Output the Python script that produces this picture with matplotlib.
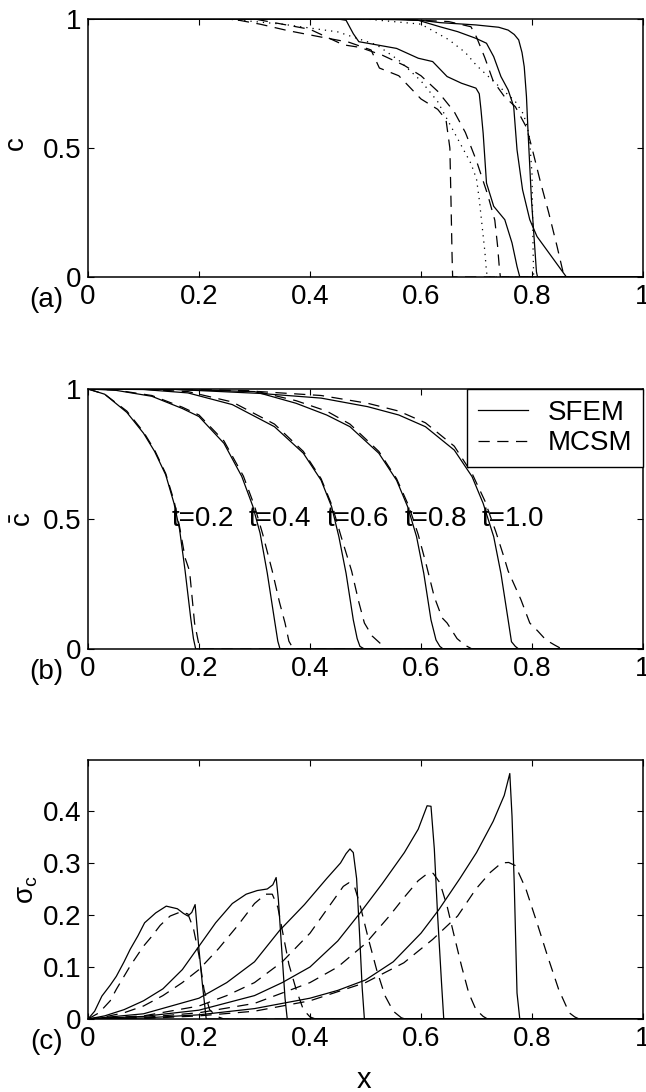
import matplotlib
matplotlib.use('Agg')
import matplotlib.pyplot as plt

plt.rcParams['font.family'] = ['Liberation Sans', 'DejaVu Sans']
plt.rcParams['mathtext.fontset'] = 'custom'
plt.rcParams['mathtext.rm'] = 'Liberation Sans'
plt.rcParams['mathtext.it'] = 'Liberation Sans'

# --- (a) single realizations of c ---
xa_s1 = [0, 0.5, 0.6, 0.634, 0.699, 0.74, 0.757, 0.768, 0.776, 0.782, 0.786, 0.79, 0.793, 0.799, 0.804, 0.808, 0.81, 1]
ca_s1 = [1, 1, 0.995, 0.986, 0.977, 0.968, 0.957, 0.94, 0.919, 0.87, 0.815, 0.7, 0.557, 0.3, 0.145, 0.02, 0, 0]
xa_s2 = [0, 0.55, 0.595, 0.634, 0.666, 0.699, 0.718, 0.731, 0.744, 0.757, 0.767, 0.773, 0.783, 0.796, 0.809, 0.835, 0.862, 1]
ca_s2 = [1, 1, 0.995, 0.97, 0.951, 0.925, 0.906, 0.854, 0.777, 0.725, 0.661, 0.493, 0.338, 0.222, 0.157, 0.08, 0, 0]
xa_s3 = [0, 0.45, 0.465, 0.478, 0.488, 0.504, 0.556, 0.595, 0.621, 0.647, 0.673, 0.699, 0.705, 0.708,
         0.712, 0.718, 0.731, 0.751, 0.764, 0.773, 0.778, 1]
ca_s3 = [1, 1, 0.995, 0.943, 0.912, 0.906, 0.886, 0.848, 0.835, 0.777, 0.751, 0.732, 0.71, 0.65,
         0.557, 0.364, 0.274, 0.222, 0.132, 0.041, 0, 0]
xa_d1 = [0, 0.26, 0.31, 0.36, 0.42, 0.47, 0.51, 0.525, 0.56, 0.6, 0.63, 0.645, 0.652, 0.654, 0.656, 0.657, 1]
ca_d1 = [1, 1, 0.98, 0.955, 0.93, 0.91, 0.88, 0.81, 0.78, 0.69, 0.65, 0.61, 0.5, 0.3, 0.08, 0, 0]
xa_d2 = [0, 0.3, 0.4, 0.46, 0.49, 0.53, 0.57, 0.6, 0.63, 0.66, 0.68, 0.7, 0.72, 0.733, 0.738, 0.741, 0.743, 1]
ca_d2 = [1, 1, 0.96, 0.9, 0.89, 0.86, 0.82, 0.78, 0.72, 0.64, 0.56, 0.45, 0.32, 0.22, 0.12, 0.04, 0, 0]
xa_d3 = [0, 0.55, 0.65, 0.69, 0.7, 0.715, 0.73, 0.75, 0.77, 0.79, 0.8, 0.815, 0.83, 0.845, 0.858, 1]
ca_d3 = [1, 1, 0.99, 0.97, 0.93, 0.85, 0.76, 0.7, 0.66, 0.58, 0.5, 0.37, 0.25, 0.12, 0, 0]
xa_p1 = [0, 0.25, 0.35, 0.45, 0.52, 0.56, 0.6, 0.63, 0.645, 0.66, 0.675, 0.69, 0.7, 0.705, 0.71, 0.715, 0.718, 0.72, 1]
ca_p1 = [1, 1, 0.98, 0.95, 0.9, 0.84, 0.76, 0.68, 0.62, 0.56, 0.5, 0.44, 0.38, 0.3, 0.2, 0.1, 0.02, 0, 0]
xa_p2 = [0, 0.5, 0.6, 0.65, 0.68, 0.7, 0.72, 0.75, 0.77, 0.785, 0.795, 0.8, 0.802, 0.803, 1]
ca_p2 = [1, 1, 0.98, 0.92, 0.87, 0.82, 0.78, 0.72, 0.68, 0.63, 0.55, 0.4, 0.1, 0, 0]

# --- (b) mean concentration, SFEM vs MCSM ---
t_labels = ['t=0.2', 't=0.4', 't=0.6', 't=0.8', 't=1.0']
t_label_x = [0.15, 0.29, 0.43, 0.57, 0.71]

xb_s02 = [0, 0.03, 0.07, 0.1, 0.12, 0.14, 0.155, 0.165, 0.175, 0.185, 0.19, 0.194, 1]
cb_s02 = [1, 0.98, 0.91, 0.83, 0.76, 0.67, 0.56, 0.46, 0.3, 0.12, 0.04, 0, 0]
xb_m02 = [0, 0.03, 0.07, 0.1, 0.12, 0.14, 0.155, 0.165, 0.175, 0.183, 0.192, 0.2, 0.206, 1]
cb_m02 = [1, 0.98, 0.915, 0.835, 0.765, 0.675, 0.57, 0.47, 0.35, 0.3, 0.1, 0.015, 0, 0]

xb_s04 = [0, 0.05, 0.115, 0.17, 0.2, 0.245, 0.277, 0.297, 0.31, 0.323, 0.336, 0.342, 0.346, 1]
cb_s04 = [1, 0.995, 0.972, 0.925, 0.894, 0.791, 0.664, 0.549, 0.446, 0.292, 0.112, 0.03, 0, 0]
xb_m04 = [0, 0.05, 0.115, 0.17, 0.2, 0.245, 0.28, 0.3, 0.315, 0.332, 0.345, 0.355, 0.362, 0.37, 1]
cb_m04 = [1, 0.996, 0.975, 0.93, 0.9, 0.8, 0.665, 0.55, 0.44, 0.3, 0.18, 0.1, 0.03, 0, 0]

xb_s06 = [0, 0.1, 0.18, 0.26, 0.336, 0.388, 0.42, 0.439, 0.452, 0.465, 0.478, 0.485, 0.49, 0.498, 1]
cb_s06 = [1, 0.998, 0.985, 0.94, 0.855, 0.753, 0.649, 0.547, 0.432, 0.291, 0.112, 0.04, 0.01, 0, 0]
xb_m06 = [0, 0.1, 0.18, 0.26, 0.336, 0.388, 0.42, 0.44, 0.455, 0.475, 0.488, 0.498, 0.512, 0.53, 0.537, 1]
cb_m06 = [1, 0.999, 0.99, 0.95, 0.865, 0.76, 0.655, 0.55, 0.44, 0.3, 0.18, 0.1, 0.05, 0.015, 0, 0]

xb_s08 = [0, 0.15, 0.3, 0.375, 0.43, 0.472, 0.524, 0.556, 0.576, 0.592, 0.605, 0.618, 0.627, 0.634, 0.64, 1]
cb_s08 = [1, 0.999, 0.99, 0.945, 0.9, 0.855, 0.753, 0.649, 0.547, 0.432, 0.291, 0.112, 0.035, 0.01, 0, 0]
xb_m08 = [0, 0.15, 0.3, 0.375, 0.43, 0.472, 0.524, 0.556, 0.578, 0.595, 0.61, 0.624, 0.638, 0.647, 0.665, 0.679, 0.692, 1]
cb_m08 = [1, 0.999, 0.993, 0.955, 0.915, 0.865, 0.76, 0.655, 0.55, 0.44, 0.32, 0.2, 0.12, 0.1, 0.04, 0.015, 0, 0]

xb_s10 = [0, 0.15, 0.31, 0.42, 0.504, 0.56, 0.608, 0.66, 0.692, 0.712, 0.731, 0.744, 0.757, 0.763, 0.77, 0.776, 1]
cb_s10 = [1, 0.999, 0.983, 0.965, 0.932, 0.9, 0.855, 0.765, 0.663, 0.56, 0.432, 0.291, 0.112, 0.028, 0.01, 0, 0]
xb_m10 = [0, 0.15, 0.31, 0.42, 0.504, 0.56, 0.608, 0.66, 0.692, 0.715, 0.735, 0.75, 0.757, 0.78, 0.796, 0.81,
          0.825, 0.841, 0.854, 1]
cb_m10 = [1, 1, 0.99, 0.975, 0.945, 0.915, 0.87, 0.78, 0.675, 0.57, 0.45, 0.35, 0.3, 0.19, 0.1, 0.07,
          0.035, 0.015, 0, 0]

# --- (c) standard deviation of c ---
xc_s02 = [0, 0.012, 0.025, 0.04, 0.051, 0.065, 0.076, 0.09, 0.102, 0.122, 0.141, 0.161, 0.172, 0.18, 0.187,
          0.193, 0.2, 0.206, 0.213, 1]
sc_s02 = [0, 0.015, 0.044, 0.065, 0.082, 0.11, 0.134, 0.16, 0.185, 0.204, 0.217, 0.212, 0.203, 0.198, 0.205,
          0.22, 0.133, 0.068, 0, 0]
xc_m02 = [0, 0.02, 0.04, 0.051, 0.076, 0.1, 0.115, 0.13, 0.148, 0.167, 0.18, 0.19, 0.2, 0.209, 0.219, 0.232, 0.245, 1]
sc_m02 = [0, 0.012, 0.035, 0.057, 0.102, 0.14, 0.159, 0.18, 0.198, 0.206, 0.202, 0.174, 0.122, 0.057, 0.018, 0.005, 0, 0]

xc_s04 = [0, 0.03, 0.065, 0.1, 0.135, 0.17, 0.2, 0.23, 0.26, 0.285, 0.305, 0.323, 0.333, 0.339, 0.343,
          0.349, 0.355, 0.359, 1]
sc_s04 = [0, 0.006, 0.018, 0.035, 0.058, 0.095, 0.14, 0.185, 0.222, 0.24, 0.247, 0.25, 0.258, 0.272, 0.23,
          0.134, 0.04, 0, 0]
xc_m04 = [0, 0.03, 0.065, 0.1, 0.135, 0.17, 0.2, 0.235, 0.27, 0.3, 0.32, 0.332, 0.342, 0.352, 0.362, 0.375,
          0.388, 0.4, 0.41, 1]
sc_m04 = [0, 0.004, 0.012, 0.025, 0.045, 0.07, 0.095, 0.135, 0.18, 0.222, 0.24, 0.24, 0.215, 0.16, 0.105, 0.057,
          0.018, 0.004, 0, 0]

xc_s06 = [0, 0.1, 0.2, 0.25, 0.3, 0.345, 0.39, 0.43, 0.455, 0.465, 0.472, 0.478, 0.484, 0.489, 0.494, 0.498, 1]
sc_s06 = [0, 0.01, 0.04, 0.07, 0.11, 0.17, 0.22, 0.27, 0.3, 0.318, 0.327, 0.32, 0.27, 0.17, 0.06, 0, 0]
xc_m06 = [0, 0.1, 0.2, 0.25, 0.3, 0.35, 0.4, 0.44, 0.46, 0.47, 0.48, 0.49, 0.505, 0.52, 0.535, 0.55, 0.565, 0.575, 1]
sc_m06 = [0, 0.006, 0.025, 0.045, 0.07, 0.11, 0.165, 0.225, 0.255, 0.262, 0.255, 0.22, 0.155, 0.095, 0.045,
          0.015, 0.002, 0, 0]

xc_s08 = [0, 0.1, 0.2, 0.3, 0.35, 0.4, 0.45, 0.491, 0.53, 0.57, 0.595, 0.611, 0.618, 0.624, 0.63, 0.637, 0.641, 1]
sc_s08 = [0, 0.005, 0.017, 0.045, 0.07, 0.1, 0.15, 0.205, 0.26, 0.32, 0.365, 0.41, 0.409, 0.327, 0.198, 0.069, 0, 0]
xc_m08 = [0, 0.1, 0.2, 0.3, 0.4, 0.45, 0.5, 0.543, 0.569, 0.595, 0.612, 0.622, 0.634, 0.647, 0.66, 0.673,
          0.686, 0.699, 0.712, 0.72, 1]
sc_m08 = [0, 0.003, 0.012, 0.03, 0.07, 0.1, 0.145, 0.198, 0.233, 0.266, 0.28, 0.28, 0.262, 0.217, 0.159, 0.102,
          0.05, 0.018, 0.005, 0, 0]

xc_s10 = [0, 0.1, 0.2, 0.3, 0.4, 0.45, 0.5, 0.55, 0.6, 0.632, 0.67, 0.7, 0.73, 0.75, 0.76, 0.764, 0.768,
          0.773, 0.778, 1]
sc_s10 = [0, 0.002, 0.008, 0.02, 0.04, 0.055, 0.075, 0.11, 0.165, 0.21, 0.27, 0.32, 0.38, 0.43, 0.472, 0.39,
          0.26, 0.05, 0, 0]
xc_m10 = [0, 0.1, 0.2, 0.3, 0.4, 0.5, 0.569, 0.621, 0.666, 0.699, 0.725, 0.745, 0.758, 0.77, 0.789, 0.809,
          0.828, 0.848, 0.867, 0.877, 0.885, 1]
sc_m10 = [0, 0.001, 0.006, 0.015, 0.035, 0.07, 0.108, 0.153, 0.198, 0.25, 0.282, 0.3, 0.301, 0.295, 0.25,
          0.185, 0.121, 0.057, 0.012, 0.004, 0, 0]

x_ticks = [0, 0.2, 0.4, 0.6, 0.8, 1]
x_tick_labels = ['0', '0.2', '0.4', '0.6', '0.8', '1']

fs = 20
lw = 0.9
solid = '-'
dashed = (0, (9, 6))
dotted = (0, (1, 4))

fig = plt.figure(figsize=(6.46, 10.92), dpi=100)
W, H = 646., 1092.
ax_a = fig.add_axes([88 / W, 1 - 277 / H, 555 / W, 258 / H])
ax_b = fig.add_axes([88 / W, 1 - 649 / H, 555 / W, 260 / H])
ax_c = fig.add_axes([88 / W, 1 - 1019 / H, 555 / W, 259 / H])


def setup(ax, ylim, yticks, ytick_labels):
    ax.set_xlim(0, 1)
    ax.set_ylim(*ylim)
    ax.set_xticks(x_ticks)
    ax.set_xticklabels(x_tick_labels)
    ax.set_yticks(yticks)
    ax.set_yticklabels(ytick_labels)
    ax.tick_params(direction='in', top=True, right=True, length=4, width=0.8, labelsize=fs)
    ax.tick_params(axis='x', pad=5)
    ax.tick_params(axis='y', pad=5)
    for s in ax.spines.values():
        s.set_linewidth(1.1)


# (a)
for xs, cs, ls in [(xa_s1, ca_s1, solid), (xa_s2, ca_s2, solid), (xa_s3, ca_s3, solid),
                   (xa_d1, ca_d1, dashed), (xa_d2, ca_d2, dashed), (xa_d3, ca_d3, dashed),
                   (xa_p1, ca_p1, dotted), (xa_p2, ca_p2, dotted)]:
    ax_a.plot(xs, cs, color='k', lw=lw, linestyle=ls)
setup(ax_a, (0, 1), [0, 0.5, 1], ['0', '0.5', '1'])
ax_a.text(-0.13, 0.52, 'c', rotation=90, ha='center', va='center', fontsize=fs, transform=ax_a.transAxes)
ax_a.text(-0.075, -0.089, '(a)', ha='center', va='center', fontsize=fs, transform=ax_a.transAxes)

# (b)
sfem_b = [(xb_s02, cb_s02), (xb_s04, cb_s04), (xb_s06, cb_s06), (xb_s08, cb_s08), (xb_s10, cb_s10)]
mcsm_b = [(xb_m02, cb_m02), (xb_m04, cb_m04), (xb_m06, cb_m06), (xb_m08, cb_m08), (xb_m10, cb_m10)]
for i, (xs, cs) in enumerate(sfem_b):
    ax_b.plot(xs, cs, color='k', lw=lw, linestyle=solid, label='SFEM' if i == 0 else None)
for i, (xs, cs) in enumerate(mcsm_b):
    ax_b.plot(xs, cs, color='k', lw=lw, linestyle=dashed, label='MCSM' if i == 0 else None)
for lab, tx in zip(t_labels, t_label_x):
    ax_b.text(tx, 0.5, lab, ha='left', va='center', fontsize=fs)
setup(ax_b, (0, 1), [0, 0.5, 1], ['0', '0.5', '1'])
leg = ax_b.legend(loc='upper right', bbox_to_anchor=(1, 1), borderaxespad=0, fontsize=fs,
                  fancybox=False, framealpha=1, edgecolor='k', handlelength=1.8,
                  handletextpad=0.7, labelspacing=0.15, borderpad=0.4)
leg.get_frame().set_linewidth(1.0)
ax_b.text(-0.115, 0.5, r'$\bar{\mathrm{c}}$', rotation=90, ha='center', va='center', fontsize=fs,
          transform=ax_b.transAxes)
ax_b.text(-0.075, -0.089, '(b)', ha='center', va='center', fontsize=fs, transform=ax_b.transAxes)

# (c)
sfem_c = [(xc_s02, sc_s02), (xc_s04, sc_s04), (xc_s06, sc_s06), (xc_s08, sc_s08), (xc_s10, sc_s10)]
mcsm_c = [(xc_m02, sc_m02), (xc_m04, sc_m04), (xc_m06, sc_m06), (xc_m08, sc_m08), (xc_m10, sc_m10)]
for xs, ss in sfem_c:
    ax_c.plot(xs, ss, color='k', lw=lw, linestyle=solid)
for xs, ss in mcsm_c:
    ax_c.plot(xs, ss, color='k', lw=lw, linestyle=dashed)
setup(ax_c, (0, 0.498), [0, 0.1, 0.2, 0.3, 0.4], ['0', '0.1', '0.2', '0.3', '0.4'])
ax_c.text(-0.11, 0.5, r'$\sigma_{\mathrm{c}}$', rotation=90, ha='center', va='center', fontsize=fs,
          transform=ax_c.transAxes)
ax_c.text(-0.075, -0.089, '(c)', ha='center', va='center', fontsize=fs, transform=ax_c.transAxes)
ax_c.text(0.498, -0.236, 'x', ha='center', va='center', fontsize=fs + 1, transform=ax_c.transAxes)

fig.savefig('out.png', dpi=100)
